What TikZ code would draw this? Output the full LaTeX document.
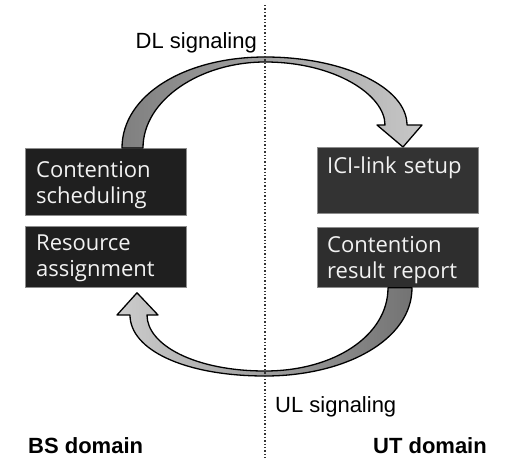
\documentclass[tikz,border=0pt]{standalone}
\usepackage{fontspec}
\newfontfamily\boxfont{Open Sans}
\newfontfamily\labfont{Liberation Sans}
\usetikzlibrary{calc}
\tikzset{
  box/.style={draw=black!45, line width=0.8pt, fill=black!88, minimum width=161pt, inner sep=0pt, anchor=north west},
  boxtxt/.style={text=white!95!black, font=\boxfont\fontsize{22}{26}\selectfont, text width=150pt, align=left, anchor=base west, inner sep=0pt},
  lab/.style={font=\labfont\fontsize{22}{26}\selectfont, inner sep=0pt},
  labb/.style={font=\labfont\bfseries\fontsize{22}{26}\selectfont, inner sep=0pt},
  arr/.style={draw=black, line width=1.3pt, line join=round},
  divider/.style={dotted, line width=1.4pt, black!80},
}
\begin{document}
\begin{tikzpicture}[x=1pt,y=-1pt]
\useasboundingbox (0,0) rectangle (507,458);
% boxes
\node[box, minimum height=67pt] (cs) at (25,148) {};
\node[box, minimum height=61pt] (ra) at (25,226) {};
\node[box, minimum height=66pt, fill=black!80] (ici) at (317,147) {};
\node[box, minimum height=60pt, fill=black!82] (crr) at (317,227) {};
% box texts
\node[boxtxt] (cst) at ([xshift=11pt,yshift=-29pt]cs.north west) {Contention\\scheduling};
\node[boxtxt] (rat) at ([xshift=11pt,yshift=-24pt]ra.north west) {Resource\\assignment};
\node[boxtxt] (icit) at ([xshift=10pt,yshift=-26pt]ici.north west) {ICI-link setup};
\node[boxtxt] (crrt) at ([xshift=10pt,yshift=-25pt]crr.north west) {Contention\\result report};
% DL arrow
\coordinate (dlA) at ([xshift=97pt]cs.north west);
\coordinate (dlB) at ([xshift=118pt]cs.north west);
\coordinate (dlT) at ([xshift=86pt]ici.north west);
\draw[arr, left color=black!50, right color=black!22]
  (dlA) .. controls (122,95) and (185,57) .. (265,57)
  .. controls (345,57) and (407,88) .. (407,125) -- (422,125) -- (dlT)
  -- (377,125) -- (385,125)
  .. controls (385,95) and (335,62) .. (265,62)
  .. controls (200,62) and (143,100) .. (dlB) -- cycle;
% UL arrow
\coordinate (ulA) at ([xshift=71pt]crr.south west);
\coordinate (ulB) at ([xshift=95pt]crr.south west);
\coordinate (ulT) at ([xshift=112pt,yshift=-5pt]ra.south west);
\draw[arr, left color=black!20, right color=black!55]
  (ulB) .. controls (412,340) and (345,376) .. (265,376)
  .. controls (185,376) and (130,350) .. (130,315) -- (117,315) -- (ulT)
  -- (158,315) -- (147,315)
  .. controls (147,345) and (195,371) .. (265,371)
  .. controls (335,371) and (388,335) .. (ulA) -- cycle;
% divider
\coordinate (dtop) at (265,5);
\coordinate (dbot) at (265,458);
\draw[divider] (dtop) -- (dbot);
% labels
\node[lab, anchor=base east] (dl) at (257,48) {DL signaling};
\node[lab, anchor=base west] (ul) at (275,412) {UL signaling};
\node[labb, anchor=base west] (bs) at (28,453) {BS domain};
\node[labb, anchor=base east] (ut) at (487,453) {UT domain};
\end{tikzpicture}
\end{document}
